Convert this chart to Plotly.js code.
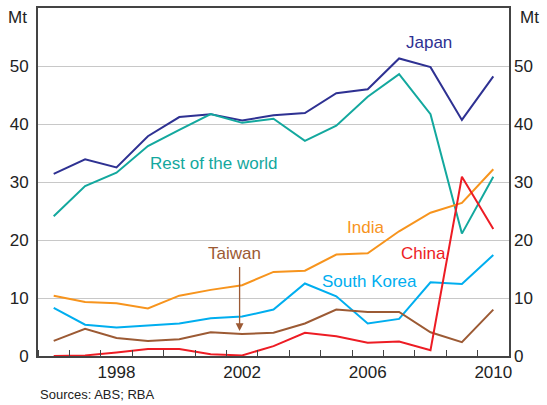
<!DOCTYPE html>
<html>
<head>
<meta charset="utf-8">
<script src="https://cdn.plot.ly/plotly-3.0.1.min.js"></script>
<style>html,body{margin:0;padding:0;background:#fff}#chart{width:547px;height:405px}</style>
</head>
<body>
<div id="chart"></div>
<script>
const years = [1996,1997,1998,1999,2000,2001,2002,2003,2004,2005,2006,2007,2008,2009,2010];
const japan = [31.4,33.9,32.5,37.9,41.2,41.7,40.6,41.5,41.9,45.3,46.0,51.3,49.8,40.7,48.2];
const restOfWorld = [24.1,29.3,31.6,36.2,39.0,41.7,40.2,40.9,37.1,39.7,44.7,48.6,41.7,21.1,30.9];
const india = [10.4,9.3,9.1,8.2,10.4,11.4,12.2,14.5,14.7,17.5,17.7,21.5,24.7,26.4,32.2];
const southKorea = [8.3,5.4,4.9,5.2,5.6,6.5,6.8,8.0,12.5,10.3,5.6,6.4,12.7,12.4,17.4];
const taiwan = [2.6,4.7,3.1,2.6,2.9,4.1,3.8,4.0,5.6,8.0,7.6,7.6,4.1,2.4,8.0];
const china = [0.0,0.1,0.6,1.2,1.2,0.3,0.1,1.7,4.0,3.4,2.3,2.5,1.0,30.9,21.9];
const xTickVals = [1998,2002,2006,2010];
const xTickText = ['1998','2002','2006','2010'];
const yTickVals = [0,10,20,30,40,50];

const FONT = 'Arial, "Liberation Sans", sans-serif';
const series = [
  {name:'Japan', y:japan, color:'#2e3192'},
  {name:'Rest of the world', y:restOfWorld, color:'#13a89e'},
  {name:'India', y:india, color:'#f7941d'},
  {name:'South Korea', y:southKorea, color:'#00aeef'},
  {name:'Taiwan', y:taiwan, color:'#9c5a34'},
  {name:'China', y:china, color:'#ed1c24'}
];
const traces = series.map(s => ({
  x: years, y: s.y, type:'scatter', mode:'lines', name:s.name,
  line:{color:s.color, width:2}, hoverinfo:'skip'
}));
// dummy trace to activate right axis
traces.push({x:[years[0]], y:[0], yaxis:'y2', type:'scatter', mode:'markers', marker:{opacity:0}, showlegend:false, hoverinfo:'skip'});

const lbl = (text, x, y, color) => ({text, x, y, xref:'x', yref:'y', showarrow:false,
  font:{family:FONT, size:17, color}, xanchor:'center', yanchor:'middle'});

const layout = {
  width:547, height:405,
  margin:{l:38, r:38, t:8, b:49},
  paper_bgcolor:'#fff', plot_bgcolor:'#fff',
  showlegend:false,
  font:{family:FONT, size:17, color:'#222'},
  xaxis:{
    range:[1995.5,2010.5], tickmode:'array', tickvals:xTickVals, ticktext:xTickText,
    ticks:'', showgrid:false, zeroline:false,
    showline:true, linecolor:'#444', linewidth:2, mirror:true,
    tickfont:{family:FONT, size:17, color:'#222'},
    minor:{tickmode:'linear', tick0:1996.5, dtick:1, ticks:'inside', ticklen:6, tickcolor:'#444', tickwidth:1, showgrid:false}
  },
  yaxis:{
    range:[0,60], tickmode:'array', tickvals:yTickVals, ticks:'',
    showgrid:true, gridcolor:'#c8c8c8', gridwidth:1, zeroline:false,
    showline:true, linecolor:'#444', linewidth:2, mirror:true,
    tickfont:{family:FONT, size:17, color:'#222'}, ticklabelstandoff:4
  },
  yaxis2:{
    range:[0,60], overlaying:'y', side:'right', tickmode:'array', tickvals:yTickVals, ticks:'',
    showgrid:false, zeroline:false, showline:false,
    tickfont:{family:FONT, size:17, color:'#222'}, ticklabelstandoff:4
  },
  annotations:[
    lbl('Japan', 2007.94, 54.0, '#2e3192'),
    lbl('Rest of the world', 2001.1, 33.2, '#13a89e'),
    lbl('India', 2005.93, 22.2, '#f7941d'),
    lbl('China', 2007.79, 17.7, '#ed1c24'),
    lbl('South Korea', 2006.07, 12.9, '#00aeef'),
    lbl('Taiwan', 2001.77, 17.7, '#9c5a34'),
    {x:2001.92, y:4.3, xref:'x', yref:'y', ax:2001.92, ay:15.6, axref:'x', ayref:'y',
     showarrow:true, arrowhead:2, arrowsize:1.2, arrowwidth:1.3, arrowcolor:'#9c5a34', text:''},
    {text:'Mt', xref:'paper', yref:'paper', x:-0.02, y:0.972, xanchor:'right', yanchor:'middle', showarrow:false,
     font:{family:FONT, size:17, color:'#222'}},
    {text:'Mt', xref:'paper', yref:'paper', x:1.02, y:0.972, xanchor:'left', yanchor:'middle', showarrow:false,
     font:{family:FONT, size:17, color:'#222'}},
    {text:'Sources: ABS; RBA', xref:'paper', yref:'paper', x:0, y:-0.11, xanchor:'left', yanchor:'middle', showarrow:false,
     font:{family:FONT, size:13, color:'#222'}}
  ]
};
Plotly.newPlot('chart', traces, layout, {staticPlot:true, displayModeBar:false});
</script>
</body>
</html>
